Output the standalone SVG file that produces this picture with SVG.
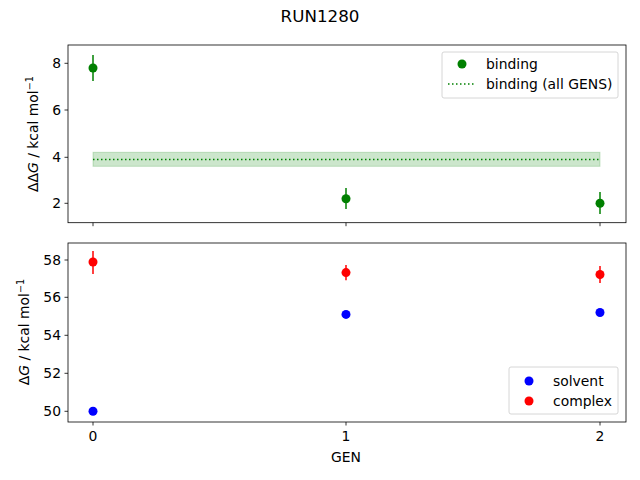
<svg xmlns="http://www.w3.org/2000/svg" width="640" height="480" viewBox="0 0 640 480">
<style>
text{font-family:"DejaVu Sans",sans-serif;font-size:13.9px;fill:#000}
.ax{fill:none;stroke:#000;stroke-width:0.8}
.tk{stroke:#000;stroke-width:0.8}
.lg{fill:#fff;fill-opacity:0.8;stroke:#ccc;stroke-width:0.8}
.sup{font-size:9.7px}
</style>
<rect width="640" height="480" fill="#fff"/>
<text x="320" y="22" text-anchor="middle" style="font-size:16.7px">RUN1280</text>
<g id="top-axes">
<rect x="93" y="152.3" width="507" height="14" fill="#008000" fill-opacity="0.2" stroke="#008000" stroke-opacity="0.2"/>
<line x1="93" y1="159.6" x2="600" y2="159.6" stroke="#008000" stroke-width="1.5" stroke-dasharray="1.5,2.5"/>
<g stroke="#008000" stroke-width="1.5">
<line x1="93" y1="55" x2="93" y2="81"/><line x1="346" y1="188" x2="346" y2="209"/><line x1="600" y1="192" x2="600" y2="214"/>
</g>
<g fill="#008000"><circle cx="93" cy="68" r="4.5"/><circle cx="346" cy="198.7" r="4.5"/><circle cx="600" cy="203.3" r="4.5"/></g>
<rect class="ax" x="68" y="45" width="558" height="177.7"/>
<g class="tk"><line x1="68" y1="63.3" x2="64.5" y2="63.3"/><line x1="68" y1="110" x2="64.5" y2="110"/><line x1="68" y1="157.3" x2="64.5" y2="157.3"/><line x1="68" y1="203.3" x2="64.5" y2="203.3"/>
<line x1="93" y1="222.7" x2="93" y2="226.2"/><line x1="346" y1="222.7" x2="346" y2="226.2"/><line x1="600" y1="222.7" x2="600" y2="226.2"/></g>
<g text-anchor="end"><text x="61" y="68.3">8</text><text x="61" y="115">6</text><text x="61" y="162.3">4</text><text x="61" y="208.3">2</text></g>
<text transform="translate(38,134) rotate(-90)" text-anchor="middle">ΔΔ<tspan font-style="italic">G</tspan> / kcal mol<tspan dy="-5" class="sup">−1</tspan></text>
<g id="legend-top"><rect class="lg" x="442" y="52" width="176" height="46" rx="2"/>
<circle cx="462" cy="64" r="4.5" fill="#008000"/><text x="486" y="69">binding</text>
<line x1="448" y1="84" x2="476" y2="84" stroke="#008000" stroke-width="1.5" stroke-dasharray="1.5,2.5"/><text x="486" y="89">binding (all GENS)</text></g>
</g>
<g id="bottom-axes">
<g stroke="#f00" stroke-width="1.5">
<line x1="93" y1="251" x2="93" y2="274"/><line x1="346" y1="265" x2="346" y2="280.2"/><line x1="600" y1="266" x2="600" y2="283"/>
</g>
<g fill="#00f"><circle cx="93" cy="411.3" r="4.5"/><circle cx="346" cy="314.4" r="4.5"/><circle cx="600" cy="312.5" r="4.5"/></g>
<g fill="#f00"><circle cx="93" cy="262" r="4.5"/><circle cx="346" cy="272.6" r="4.5"/><circle cx="600" cy="274.5" r="4.5"/></g>
<rect class="ax" x="68" y="243" width="558" height="179"/>
<g class="tk"><line x1="68" y1="260" x2="64.5" y2="260"/><line x1="68" y1="297.3" x2="64.5" y2="297.3"/><line x1="68" y1="335.3" x2="64.5" y2="335.3"/><line x1="68" y1="373.3" x2="64.5" y2="373.3"/><line x1="68" y1="411.3" x2="64.5" y2="411.3"/>
<line x1="93" y1="422" x2="93" y2="425.5"/><line x1="346" y1="422" x2="346" y2="425.5"/><line x1="600" y1="422" x2="600" y2="425.5"/></g>
<g text-anchor="end"><text x="61" y="265">58</text><text x="61" y="302.3">56</text><text x="61" y="340.3">54</text><text x="61" y="378.3">52</text><text x="61" y="416.3">50</text></g>
<g text-anchor="middle"><text x="93" y="441">0</text><text x="346" y="441">1</text><text x="600" y="441">2</text><text x="346" y="462">GEN</text></g>
<text transform="translate(29,332) rotate(-90)" text-anchor="middle">Δ<tspan font-style="italic">G</tspan> / kcal mol<tspan dy="-5" class="sup">−1</tspan></text>
<g id="legend-bottom"><rect class="lg" x="509" y="367" width="109" height="47" rx="2"/>
<circle cx="529" cy="381" r="4.5" fill="#00f"/><text x="553" y="386">solvent</text>
<circle cx="529" cy="401" r="4.5" fill="#f00"/><text x="553" y="406">complex</text></g>
</g>
</svg>
